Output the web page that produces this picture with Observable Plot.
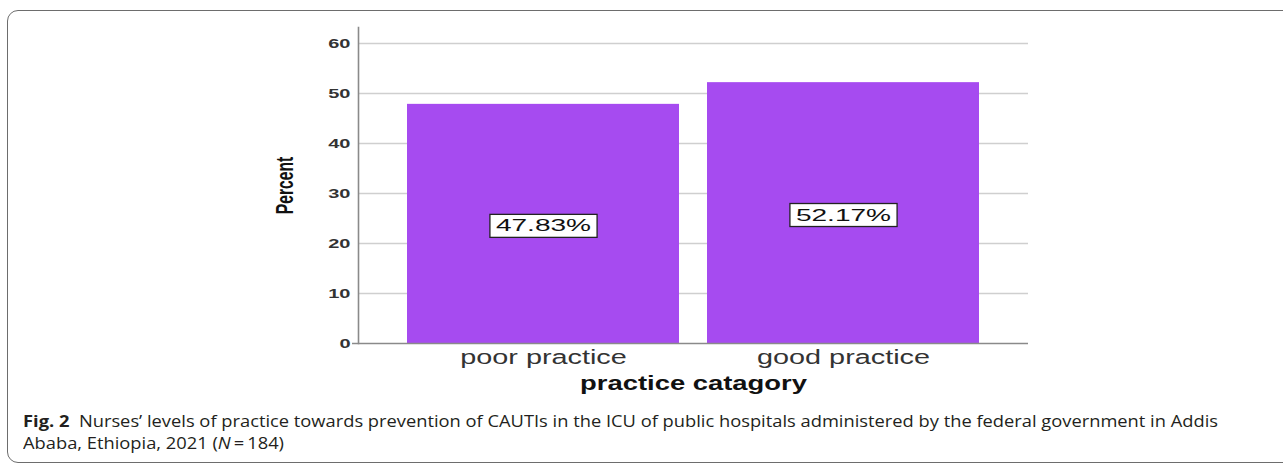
<!DOCTYPE html>
<html><head><meta charset="utf-8">
<script src="https://cdn.jsdelivr.net/npm/d3@7"></script>
<script src="https://cdn.jsdelivr.net/npm/@observablehq/plot@0.6"></script>
<style>
body{margin:0;background:#fff;width:1283px;height:467px;overflow:hidden;position:relative;font-family:"Liberation Sans",Arial,sans-serif;}
#frame{position:absolute;left:7px;top:10px;width:1300px;height:453px;border:1px solid #6d6d6d;border-radius:11px;box-sizing:border-box;}
#chart{position:absolute;left:0;top:0;}
#caption{position:absolute;left:23px;top:410px;font-family:"Open Sans",sans-serif;font-size:15.5px;line-height:22px;color:#231f20;white-space:nowrap;transform-origin:0 0;}
#caption div{width:max-content;}
</style></head><body>
<div id="frame"></div><div id="chart"></div>
<div id="caption"><div id="line1"><b>Fig. 2</b>&nbsp; Nurses’ levels of practice towards prevention of CAUTIs in the ICU of public hospitals administered by the federal government in Addis</div><div>Ababa, Ethiopia, 2021 (<i>N</i>&thinsp;=&thinsp;184)</div></div>
<script>
const categories = ["poor practice", "good practice"];
const percents = [47.83, 52.17];
const yTicks = [0, 10, 20, 30, 40, 50, 60];
const xTitle = "practice catagory";
const yTitle = "Percent";

const data = categories.map((c, i) => ({category: c, percent: percents[i], label: percents[i].toFixed(2) + "%"}));

const plot = Plot.plot({
  width: 1283, height: 400,
  marginTop: 27, marginBottom: 57, marginLeft: 358, marginRight: 255,
  style: {fontFamily: "Liberation Sans, Arial, sans-serif", background: "transparent"},
  x: {domain: categories, paddingInner: 0.093, paddingOuter: 0.163, label: null},
  y: {domain: [0, 63.2], label: null},
  marks: [
    Plot.ruleY(yTicks.filter(d => d > 0), {stroke: "#cfcfcf", strokeWidth: 1.3}),
    Plot.barY(data, {x: "category", y: "percent", fill: "#a64bf0"}),
    Plot.ruleY([0], {stroke: "#8a8a8a", strokeWidth: 1.6, insetLeft: -6}),
    Plot.frame({anchor: "left", stroke: "#8a8a8a", strokeWidth: 1.6}),
    Plot.axisY({ticks: yTicks, tickSize: 0, tickPadding: 8, fontSize: 12.5, fontWeight: "bold", fill: "#333", label: null}),
    Plot.axisX({tickSize: 0, tickPadding: 6, fontSize: 20, fill: "#333", label: null}),
    Plot.text(data, {x: "category", y: d => d.percent / 2, text: "label", fontSize: 17, fill: "#111", dy: 2}),
    Plot.text([xTitle], {frameAnchor: "bottom", lineAnchor: "middle", dy: 40, fontSize: 20, fontWeight: "bold", fill: "#111"}),
    Plot.text([yTitle], {frameAnchor: "left", textAnchor: "middle", lineAnchor: "middle", dx: -73, rotate: -90, fontSize: 23, fontWeight: "bold", fill: "#111"})
  ]
});
document.getElementById("chart").appendChild(plot);

function stretch(el, factor) {
  const L = el.getComputedTextLength();
  el.setAttribute("textLength", L * factor);
  el.setAttribute("lengthAdjust", "spacingAndGlyphs");
}
const svg = d3.select(plot);
svg.selectAll('g[aria-label="y-axis tick label"] text').each(function() { stretch(this, 1.6); });
svg.selectAll('g[aria-label="x-axis tick label"] text').each(function() { stretch(this, 1.44); });
const textGroups = svg.selectAll('g[aria-label="text"]').nodes();
if (textGroups.length >= 3) {
  d3.select(textGroups[0]).selectAll("text").each(function() {
    stretch(this, 1.65);
    const bb = this.getBBox();
    const r = document.createElementNS("http://www.w3.org/2000/svg", "rect");
    r.setAttribute("x", bb.x - 6);
    r.setAttribute("y", bb.y - 2);
    r.setAttribute("width", bb.width + 12);
    r.setAttribute("height", bb.height + 4);
    r.setAttribute("fill", "#fff");
    r.setAttribute("stroke", "#222");
    r.setAttribute("stroke-width", "1.3");
    const t = this.getAttribute("transform");
    if (t) r.setAttribute("transform", t);
    this.parentNode.insertBefore(r, this);
  });
  d3.select(textGroups[1]).selectAll("text").each(function() { stretch(this, 1.37); });
  d3.select(textGroups[2]).selectAll("text").each(function() { stretch(this, 0.68); });
}
// caption: fit first line to the reference width
const line1 = document.getElementById("line1");
const w = line1.getBoundingClientRect().width;
document.getElementById("caption").style.transform = `scaleX(${1195 / w})`;
</script>
</body></html>
